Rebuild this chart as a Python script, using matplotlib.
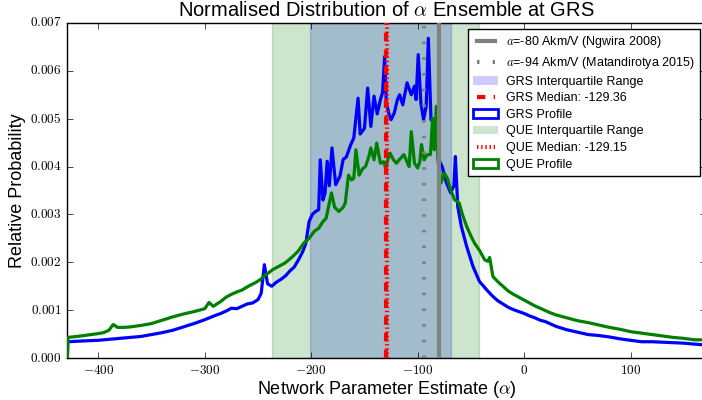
import numpy as np
import matplotlib
matplotlib.use("Agg")
import matplotlib.pyplot as plt
from matplotlib.patches import Patch
from matplotlib.lines import Line2D
from matplotlib.ticker import FuncFormatter

plt.style.use('classic')
plt.rcParams['font.family'] = ['Liberation Sans', 'DejaVu Sans']
plt.rcParams['mathtext.fontset'] = 'cm'
plt.rcParams['lines.scale_dashes'] = False

# ---- data (probabilities in units of 1e-3) ----
grs_x = [-429, -428.6, -420, -410, -400, -390, -380, -370, -360, -350, -340, -330, -320, -310, -300,
         -290, -285, -280, -275, -270, -265, -260, -255, -250, -247, -244, -241, -237, -233, -228,
         -224, -220, -216, -212, -208, -205, -202, -199, -196, -193, -191.5, -189, -187, -185, -183,
         -180.5, -177, -173, -170, -167, -163, -160, -156, -154, -150, -147, -144, -141, -138, -135,
         -133, -131, -129.5, -127, -125, -122, -119, -117, -114, -110, -106, -103, -101.5, -99.5, -97,
         -94.5, -92, -90, -87.5, -84.5, -82, -80, -77, -73, -69, -66, -64.6, -62.4, -59, -54,
         -48, -42, -35, -30, -25, -20, -15, -10, -5, 0, 5, 10, 15, 20, 25,
         30, 40, 50, 60, 70, 80, 90, 100, 110, 120, 130, 140, 150, 160, 171]
grs_y = [0.0, 0.34, 0.35, 0.36, 0.37, 0.39, 0.41, 0.43, 0.45, 0.49, 0.53, 0.58, 0.65, 0.72, 0.80,
         0.89, 0.93, 0.98, 1.04, 1.03, 1.08, 1.13, 1.15, 1.22, 1.35, 1.95, 1.55, 1.50, 1.58, 1.65,
         1.72, 1.82, 1.90, 2.05, 2.22, 2.40, 2.85, 3.00, 3.06, 3.10, 4.14, 3.30, 3.45, 4.11, 3.60,
         4.39, 3.62, 3.80, 4.15, 4.20, 4.45, 4.60, 5.43, 4.68, 4.80, 5.64, 4.84, 5.47, 5.10, 5.40,
         5.55, 6.30, 5.35, 5.10, 4.98, 5.12, 5.40, 5.50, 5.29, 5.75, 5.50, 5.68, 5.40, 6.34, 5.33,
         4.98, 5.26, 6.68, 4.98, 4.91, 4.60, 4.14, 4.00, 3.66, 3.45, 3.60, 4.21, 3.17, 2.75, 2.33,
         1.91, 1.60, 1.42, 1.30, 1.20, 1.13, 1.06, 1.01, 0.97, 0.93, 0.88, 0.84, 0.79, 0.76, 0.71,
         0.66, 0.59, 0.54, 0.49, 0.47, 0.44, 0.40, 0.37, 0.34, 0.34, 0.33, 0.32, 0.31, 0.29, 0.27]

que_x = [-429, -428.6, -420, -410, -400, -395, -390, -386, -382, -375, -370, -360, -350, -340, -330,
         -320, -310, -300, -296, -292, -285, -280, -275, -270, -265, -259, -252, -247, -244, -240,
         -236, -230, -225, -221, -216, -212, -207, -202, -197, -193, -189, -186, -181, -178, -174,
         -170, -168, -165, -162, -160, -158, -155, -152, -149, -146, -144, -141, -138.5, -135, -132,
         -130, -128, -126, -123, -120, -117, -113, -110, -108, -106, -103, -100, -98, -96.4, -94,
         -91, -88, -86, -84.4, -82.5, -81, -78, -75, -72, -70, -65.5, -61, -58, -54, -50,
         -46.6, -42, -37, -34, -32.4, -29.3, -25, -20, -15, -10, -5, 0, 5, 10, 15,
         20, 25, 30, 40, 50, 60, 70, 80, 90, 100, 110, 120, 130, 140, 150, 160, 171]
que_y = [0.0, 0.43, 0.45, 0.48, 0.51, 0.53, 0.58, 0.70, 0.64, 0.64, 0.65, 0.68, 0.72, 0.79, 0.86,
         0.92, 0.97, 1.03, 1.16, 1.08, 1.18, 1.27, 1.33, 1.38, 1.42, 1.50, 1.58, 1.65, 1.72, 1.78,
         1.85, 1.92, 1.98, 2.05, 2.15, 2.24, 2.40, 2.50, 2.65, 2.71, 2.85, 2.92, 3.45, 3.15, 3.06,
         3.15, 3.24, 3.82, 3.72, 3.76, 4.35, 3.82, 3.95, 4.00, 4.20, 4.39, 4.14, 4.49, 4.07, 4.10,
         3.97, 4.15, 4.28, 4.15, 4.07, 4.15, 4.25, 4.10, 4.00, 4.73, 4.07, 3.97, 4.10, 4.46, 4.14,
         4.25, 4.25, 5.01, 4.35, 5.26, 4.14, 3.66, 3.86, 3.75, 3.58, 3.31, 3.24, 3.00, 2.75, 2.55,
         2.40, 2.25, 2.05, 2.02, 2.10, 1.70, 1.60, 1.50, 1.40, 1.33, 1.27, 1.21, 1.15, 1.09, 1.04,
         0.99, 0.94, 0.90, 0.84, 0.78, 0.74, 0.69, 0.64, 0.60, 0.55, 0.52, 0.49, 0.46, 0.43, 0.41, 0.38, 0.38]

grs_iqr = (-201.6, -68.6)
que_iqr = (-236.8, -42.5)
grs_median = -129.36
que_median = -129.15
ngwira_a = -80
matandirotya_a = -94

x_ticks = [-400, -300, -200, -100, 0, 100]
y_ticks = [0.000, 0.001, 0.002, 0.003, 0.004, 0.005, 0.006, 0.007]

# ---- figure ----
fig = plt.figure(figsize=(7.02, 4.0), dpi=100, facecolor='white')
ax = fig.add_axes([67.3 / 702, 42 / 400, (706 - 67.3) / 702, (358 - 23) / 400])
ax.set_facecolor('white')

ax.axvspan(*grs_iqr, color='b', alpha=0.2, zorder=1)
ax.axvspan(*que_iqr, color='g', alpha=0.2, zorder=1)

ax.plot(grs_x, np.array(grs_y) * 1e-3, color='b', lw=2.3, zorder=3)
ax.plot(que_x, np.array(que_y) * 1e-3, color='g', lw=2.3, zorder=3)

ax.axvline(ngwira_a, color='gray', lw=3, zorder=4)
ax.axvline(matandirotya_a, color='gray', lw=3, dashes=(1.8, 9.5), zorder=4)
ax.axvline(grs_median, color='r', lw=3, dashes=(6, 6), zorder=5)
ax.axvline(que_median, color='r', lw=3, dashes=(1, 2), zorder=5)

ax.set_xlim(-429.1, 170.8)
ax.set_ylim(0, 0.007)
ax.set_xticks(x_ticks)
ax.set_yticks(y_ticks)
ax.xaxis.set_major_formatter(FuncFormatter(lambda v, p: r'$%d$' % v))
ax.yaxis.set_major_formatter(FuncFormatter(lambda v, p: r'$%.3f$' % v))
ax.tick_params(labelsize=9.5)

ax.set_title(r'Normalised Distribution of $\alpha$ Ensemble at GRS', fontsize=14.5)
ax.set_xlabel(r'Network Parameter Estimate ($\alpha$)', fontsize=13, labelpad=1.5)
ax.set_ylabel('Relative Probability', fontsize=13, labelpad=3)

handles = [
    Line2D([], [], color='gray', lw=3),
    Line2D([], [], color='gray', lw=3, dashes=(1.8, 9.5)),
    Patch(facecolor='b', alpha=0.2, edgecolor='none'),
    Line2D([], [], color='r', lw=3, dashes=(6, 6)),
    Patch(facecolor='white', edgecolor='b', lw=2),
    Patch(facecolor='g', alpha=0.2, edgecolor='none'),
    Line2D([], [], color='r', lw=3, dashes=(1, 2)),
    Patch(facecolor='white', edgecolor='g', lw=2),
]
labels = [
    r'$a$=-80 Akm/V (Ngwira 2008)',
    r'$a$=-94 Akm/V (Matandirotya 2015)',
    'GRS Interquartile Range',
    'GRS Median: -129.36',
    'GRS Profile',
    'QUE Interquartile Range',
    'QUE Median: -129.15',
    'QUE Profile',
]
leg = ax.legend(handles, labels, loc='upper right', fontsize=9, fancybox=False,
                labelspacing=0.37, handletextpad=0.6, borderpad=0.4)
leg.get_frame().set_edgecolor('black')

fig.savefig('out.png', dpi=100, facecolor='white')
